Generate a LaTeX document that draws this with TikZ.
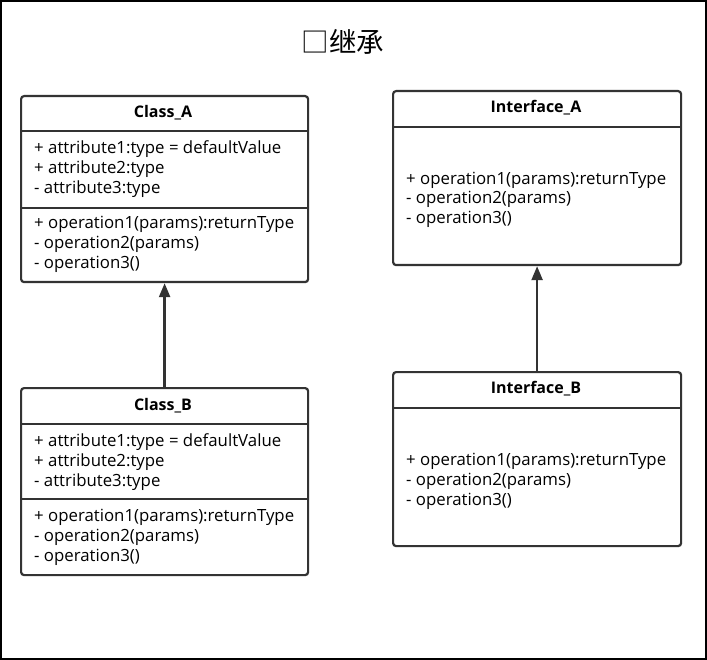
\documentclass[tikz,border=0pt]{standalone}
\usepackage{fontspec}
\setmainfont{Open Sans}
\newfontfamily\cjk{Noto Sans CJK SC}
\usetikzlibrary{arrows.meta}
\tikzset{
  box/.style={draw=black!80,line width=2.2pt,rounded corners=3pt,anchor=north west,inner sep=0pt},
  sep/.style={draw=black!80,line width=1.8pt},
  head/.style={font=\fontsize{16}{18}\selectfont\bfseries},
  member/.style={anchor=west,inner sep=0pt,font=\fontsize{16.8}{18}\selectfont},
  inherit/.style={draw=black!80,line width=2.4pt,-{Triangle[length=14pt,width=11pt]}}
}
\begin{document}
\begin{tikzpicture}[x=1pt,y=-1pt]
\useasboundingbox (0,0) rectangle (707,660);
\draw[line width=1.8pt] (1,1) rectangle (706,659);
\node[font=\cjk\fontsize{27.5}{30}\selectfont] (title) at (343,42) {□继承};

% Class_A
\node[box,minimum width=287pt,minimum height=186pt] (ca) at (20,95) {};
\draw[sep] (20,131) -- (307,131);
\draw[sep] (20,208) -- (307,208);
\node[head] (caname) at (163,113) {Class\_A};
\node[member] at (34,149) {+ attribute1:type = defaultValue};
\node[member] at (34,169) {+ attribute2:type};
\node[member] at (34,189) {- attribute3:type};
\node[member] at (34,224) {+ operation1(params):returnType};
\node[member] at (34,244) {- operation2(params)};
\node[member] at (34,264) {- operation3()};

% Class_B
\node[box,minimum width=287pt,minimum height=187pt] (cb) at (20,387) {};
\draw[sep] (20,424) -- (307,424);
\draw[sep] (20,499) -- (307,499);
\node[head] (cbname) at (163,406) {Class\_B};
\node[member] at (34,442) {+ attribute1:type = defaultValue};
\node[member] at (34,462) {+ attribute2:type};
\node[member] at (34,482) {- attribute3:type};
\node[member] at (34,517) {+ operation1(params):returnType};
\node[member] at (34,537) {- operation2(params)};
\node[member] at (34,557) {- operation3()};

% Interface_A
\node[box,minimum width=288pt,minimum height=174pt] (ia) at (392,90) {};
\draw[sep] (392,127) -- (680,127);
\node[head] (ianame) at (536,108) {Interface\_A};
\node[member] at (406,180) {+ operation1(params):returnType};
\node[member] at (406,199) {- operation2(params)};
\node[member] at (406,219) {- operation3()};

% Interface_B
\node[box,minimum width=288pt,minimum height=174pt] (ib) at (392,371) {};
\draw[sep] (392,408) -- (680,408);
\node[head] (ibname) at (536,389) {Interface\_B};
\node[member] at (406,461) {+ operation1(params):returnType};
\node[member] at (406,481) {- operation2(params)};
\node[member] at (406,501) {- operation3()};

% generalisation
\draw[inherit] (cb.north) -- (ca.south);
\draw[inherit] (ib.north) -- (ia.south);
\end{tikzpicture}
\end{document}
